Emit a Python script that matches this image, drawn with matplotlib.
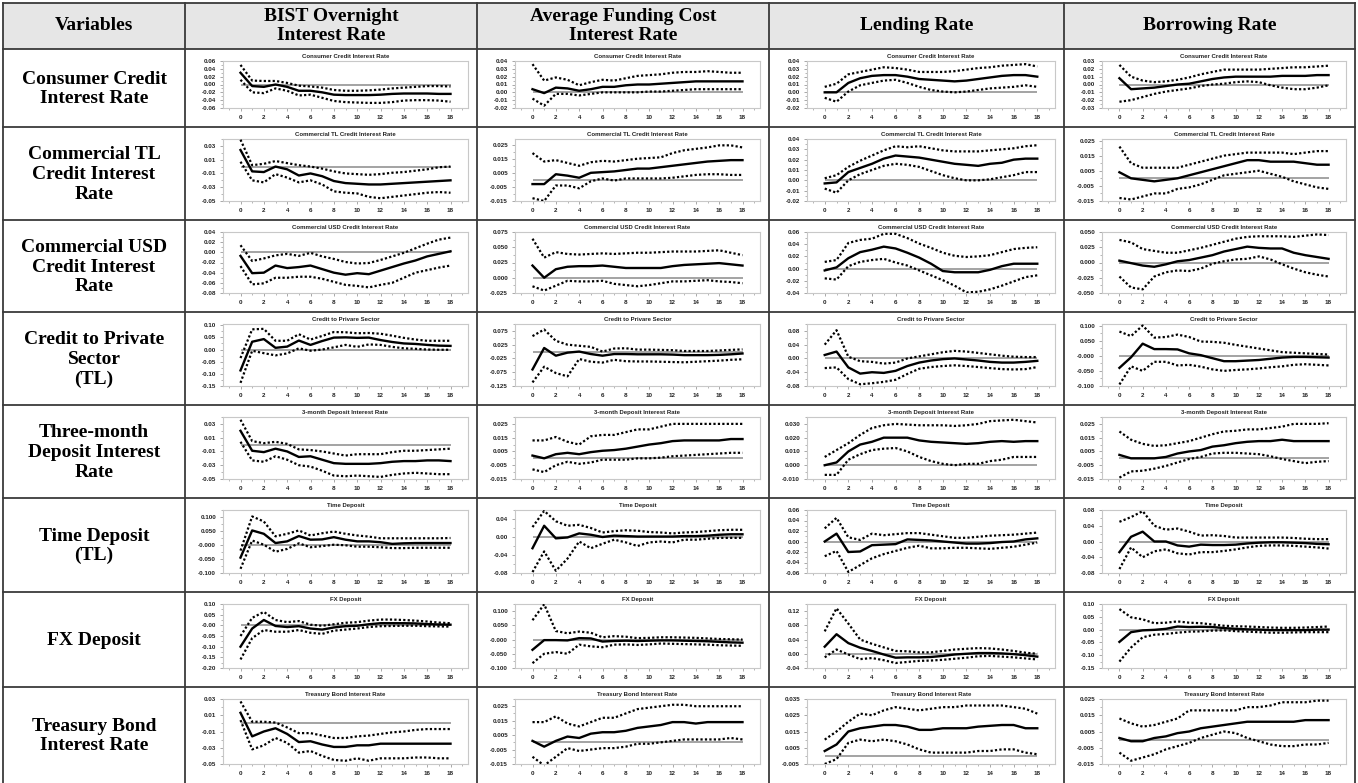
import matplotlib
matplotlib.use("Agg")
import matplotlib.pyplot as plt
from matplotlib.patches import Rectangle
from matplotlib.ticker import FixedLocator, AutoMinorLocator, MultipleLocator

W, H = 1358, 783
HORIZON = list(range(19))

COLUMN_HEADERS = ["Variables", "BIST Overnight\nInterest Rate", "Average Funding Cost\nInterest Rate",
                  "Lending Rate", "Borrowing Rate"]
ROW_LABELS = ["Consumer Credit\nInterest Rate", "Commercial TL\nCredit Interest\nRate",
              "Commercial USD\nCredit Interest\nRate", "Credit to Private\nSector\n(TL)",
              "Three-month\nDeposit Interest\nRate", "Time Deposit\n(TL)", "FX Deposit",
              "Treasury Bond\nInterest Rate"]
PANEL_TITLES = ["Consumer Credit Interest Rate", "Commercial TL Credit Interest Rate",
                "Commercial USD Credit Interest Rate", "Credit to Privare Sector",
                "3-month Deposit Interest Rate", "Time Deposit", "FX Deposit",
                "Treasury Bond Interest Rate"]

# ---- impulse responses: each list holds [BIST, AFC, Lending, Borrowing] ----
CONSUMER_MID = [
    [0.030,-0.004,-0.006,0.000,-0.006,-0.016,-0.016,-0.020,-0.026,-0.027,-0.027,-0.027,-0.026,-0.024,-0.023,-0.023,-0.023,-0.024,-0.024],
    [0.004,-0.001,0.006,0.005,0.002,0.004,0.007,0.007,0.009,0.010,0.010,0.011,0.012,0.013,0.014,0.014,0.014,0.014,0.014],
    [0.000,0.000,0.012,0.018,0.021,0.022,0.022,0.020,0.017,0.016,0.015,0.014,0.015,0.017,0.019,0.021,0.022,0.022,0.020],
    [0.008,-0.006,-0.005,-0.004,-0.002,0.000,0.001,0.004,0.007,0.009,0.010,0.010,0.010,0.010,0.011,0.011,0.011,0.012,0.012]]
CONSUMER_UP = [
    [0.050,0.010,0.009,0.009,0.004,-0.003,-0.005,-0.008,-0.014,-0.016,-0.016,-0.015,-0.013,-0.010,-0.008,-0.006,-0.004,-0.004,-0.005],
    [0.036,0.015,0.019,0.016,0.009,0.013,0.016,0.015,0.018,0.021,0.022,0.023,0.025,0.026,0.026,0.027,0.026,0.025,0.025],
    [0.007,0.011,0.023,0.026,0.029,0.032,0.031,0.029,0.026,0.026,0.026,0.027,0.029,0.031,0.032,0.034,0.035,0.036,0.033],
    [0.025,0.010,0.005,0.003,0.004,0.006,0.009,0.013,0.016,0.019,0.019,0.019,0.019,0.020,0.021,0.022,0.022,0.023,0.024]]
CONSUMER_LO = [
    [0.012,-0.020,-0.022,-0.010,-0.016,-0.028,-0.026,-0.034,-0.042,-0.045,-0.046,-0.047,-0.047,-0.045,-0.041,-0.040,-0.040,-0.041,-0.044],
    [-0.008,-0.017,-0.002,-0.002,-0.004,-0.002,0.000,0.000,0.000,0.000,0.001,0.001,0.002,0.003,0.004,0.004,0.004,0.004,0.004],
    [-0.007,-0.012,0.001,0.009,0.012,0.015,0.016,0.012,0.007,0.003,0.001,0.000,0.001,0.003,0.005,0.006,0.007,0.009,0.007],
    [-0.022,-0.020,-0.016,-0.012,-0.009,-0.007,-0.005,-0.002,0.000,0.001,0.003,0.004,0.003,-0.001,-0.004,-0.006,-0.006,-0.004,-0.001]]

COMM_TL_MID = [
    [0.024,-0.007,-0.008,0.000,-0.004,-0.013,-0.010,-0.014,-0.021,-0.024,-0.025,-0.026,-0.026,-0.025,-0.024,-0.023,-0.022,-0.021,-0.020],
    [-0.003,-0.003,0.004,0.003,0.0015,0.005,0.0055,0.006,0.007,0.008,0.008,0.009,0.010,0.011,0.012,0.013,0.0135,0.014,0.014],
    [-0.003,-0.002,0.008,0.012,0.016,0.021,0.024,0.023,0.022,0.020,0.018,0.016,0.015,0.014,0.016,0.017,0.020,0.021,0.021],
    [0.004,0.000,-0.001,-0.002,-0.001,0.000,0.002,0.004,0.006,0.008,0.010,0.012,0.012,0.011,0.011,0.011,0.010,0.009,0.009]]
COMM_TL_UP = [
    [0.039,0.002,0.004,0.008,0.005,0.002,0.000,-0.003,-0.007,-0.010,-0.011,-0.012,-0.011,-0.009,-0.008,-0.006,-0.004,-0.001,0.000],
    [0.019,0.013,0.014,0.012,0.010,0.0125,0.0135,0.013,0.014,0.015,0.0155,0.016,0.019,0.021,0.022,0.023,0.0245,0.0245,0.023],
    [0.002,0.005,0.013,0.019,0.024,0.029,0.033,0.032,0.033,0.031,0.029,0.028,0.028,0.028,0.029,0.030,0.031,0.033,0.034],
    [0.021,0.010,0.007,0.007,0.007,0.007,0.009,0.011,0.013,0.015,0.016,0.017,0.017,0.017,0.017,0.016,0.017,0.018,0.018]]
COMM_TL_LO = [
    [0.007,-0.020,-0.023,-0.011,-0.016,-0.023,-0.020,-0.026,-0.036,-0.038,-0.039,-0.044,-0.046,-0.044,-0.042,-0.040,-0.038,-0.037,-0.038],
    [-0.013,-0.015,-0.004,-0.004,-0.006,-0.001,0.001,-0.0005,0.001,0.001,0.001,0.001,0.0015,0.0025,0.0035,0.004,0.004,0.0035,0.0035],
    [-0.008,-0.012,0.000,0.006,0.010,0.014,0.016,0.015,0.013,0.009,0.005,0.002,0.000,0.000,0.001,0.003,0.005,0.008,0.008],
    [-0.013,-0.014,-0.012,-0.010,-0.010,-0.007,-0.006,-0.004,-0.001,0.002,0.003,0.004,0.005,0.003,0.001,-0.002,-0.004,-0.006,-0.007]]

COMM_USD_MID = [
    [-0.007,-0.041,-0.040,-0.026,-0.031,-0.029,-0.026,-0.033,-0.040,-0.044,-0.041,-0.043,-0.036,-0.029,-0.022,-0.016,-0.008,-0.003,0.002],
    [0.020,0.000,0.014,0.018,0.019,0.019,0.020,0.018,0.016,0.016,0.016,0.016,0.019,0.021,0.022,0.023,0.024,0.022,0.020],
    [-0.003,0.002,0.017,0.027,0.031,0.036,0.033,0.026,0.018,0.008,-0.004,-0.006,-0.006,-0.006,-0.002,0.004,0.008,0.008,0.008],
    [0.003,-0.001,-0.005,-0.007,-0.003,0.002,0.004,0.008,0.012,0.018,0.022,0.026,0.024,0.023,0.023,0.016,0.012,0.009,0.006]]
COMM_USD_UP = [
    [0.014,-0.017,-0.012,-0.006,-0.003,-0.007,-0.001,-0.008,-0.013,-0.019,-0.022,-0.021,-0.015,-0.008,-0.001,0.008,0.017,0.025,0.029],
    [0.064,0.033,0.042,0.039,0.038,0.039,0.040,0.039,0.040,0.041,0.041,0.042,0.043,0.043,0.043,0.044,0.045,0.041,0.037],
    [0.011,0.014,0.042,0.047,0.049,0.057,0.057,0.050,0.041,0.034,0.026,0.021,0.019,0.020,0.022,0.027,0.032,0.034,0.035],
    [0.037,0.033,0.022,0.019,0.016,0.016,0.020,0.024,0.029,0.034,0.039,0.042,0.043,0.043,0.043,0.042,0.044,0.046,0.045]]
COMM_USD_LO = [
    [-0.027,-0.063,-0.061,-0.050,-0.050,-0.048,-0.048,-0.052,-0.058,-0.064,-0.066,-0.069,-0.064,-0.060,-0.050,-0.040,-0.035,-0.030,-0.026],
    [-0.014,-0.021,-0.013,-0.005,-0.006,-0.006,-0.005,-0.010,-0.012,-0.014,-0.012,-0.009,-0.006,-0.006,-0.005,-0.004,-0.006,-0.007,-0.009],
    [-0.016,-0.018,0.004,0.011,0.014,0.016,0.010,0.005,-0.003,-0.011,-0.019,-0.028,-0.039,-0.038,-0.034,-0.028,-0.021,-0.014,-0.011],
    [-0.023,-0.041,-0.044,-0.023,-0.016,-0.013,-0.014,-0.010,-0.002,0.002,0.005,0.006,0.010,0.005,-0.003,-0.010,-0.016,-0.020,-0.023]]

CREDIT_MID = [
    [-0.086,0.032,0.043,0.007,0.012,0.037,0.019,0.035,0.049,0.050,0.048,0.049,0.039,0.031,0.025,0.023,0.019,0.016,0.015],
    [-0.065,0.013,-0.015,-0.004,0.000,-0.009,-0.015,-0.009,-0.009,-0.010,-0.010,-0.010,-0.011,-0.013,-0.013,-0.013,-0.012,-0.010,-0.007],
    [0.010,0.020,-0.026,-0.044,-0.040,-0.042,-0.036,-0.022,-0.012,-0.006,-0.002,0.000,-0.003,-0.006,-0.010,-0.012,-0.012,-0.010,-0.007],
    [-0.040,-0.005,0.040,0.022,0.022,0.021,0.008,0.002,-0.008,-0.018,-0.018,-0.016,-0.014,-0.010,-0.006,-0.004,-0.004,-0.005,-0.006]]
CREDIT_UP = [
    [-0.035,0.083,0.085,0.036,0.036,0.063,0.041,0.056,0.072,0.071,0.067,0.068,0.065,0.057,0.048,0.041,0.036,0.036,0.036],
    [0.056,0.080,0.039,0.025,0.021,0.017,0.000,0.011,0.012,0.007,0.007,0.006,0.005,0.002,0.002,0.002,0.004,0.006,0.008],
    [0.040,0.082,0.005,-0.008,-0.010,-0.015,-0.012,0.000,0.006,0.012,0.018,0.022,0.020,0.016,0.012,0.008,0.005,0.004,0.004],
    [0.080,0.065,0.100,0.060,0.062,0.070,0.062,0.047,0.046,0.043,0.036,0.030,0.024,0.018,0.012,0.010,0.008,0.006,0.004]]
CREDIT_LO = [
    [-0.137,-0.005,-0.015,-0.024,-0.016,0.005,-0.005,0.000,0.009,0.019,0.011,0.021,0.019,0.011,0.005,0.003,0.000,-0.001,-0.001],
    [-0.112,-0.055,-0.078,-0.090,-0.027,-0.037,-0.040,-0.030,-0.035,-0.036,-0.036,-0.037,-0.038,-0.039,-0.037,-0.035,-0.033,-0.030,-0.028],
    [-0.028,-0.026,-0.060,-0.075,-0.072,-0.068,-0.062,-0.045,-0.030,-0.025,-0.022,-0.020,-0.022,-0.025,-0.028,-0.031,-0.032,-0.031,-0.025],
    [-0.095,-0.035,-0.050,-0.020,-0.020,-0.032,-0.030,-0.036,-0.045,-0.050,-0.047,-0.045,-0.042,-0.038,-0.035,-0.030,-0.028,-0.030,-0.032]]

DEPOSIT3M_MID = [
    [0.020,-0.009,-0.011,-0.006,-0.010,-0.018,-0.017,-0.022,-0.027,-0.028,-0.028,-0.028,-0.027,-0.025,-0.024,-0.024,-0.023,-0.023,-0.024],
    [0.002,0.000,0.003,0.004,0.003,0.0045,0.0055,0.006,0.007,0.0085,0.010,0.011,0.0125,0.013,0.013,0.013,0.013,0.014,0.014],
    [0.000,0.002,0.010,0.015,0.017,0.020,0.020,0.020,0.018,0.017,0.0165,0.016,0.0155,0.016,0.017,0.0175,0.017,0.0175,0.0175],
    [0.0025,0.000,0.000,0.000,0.001,0.0035,0.005,0.006,0.0085,0.0095,0.011,0.012,0.0125,0.0125,0.0135,0.0125,0.0125,0.0125,0.0125]]
DEPOSIT3M_UP = [
    [0.036,0.005,0.002,0.004,0.001,-0.007,-0.008,-0.010,-0.013,-0.016,-0.014,-0.014,-0.014,-0.011,-0.009,-0.009,-0.008,-0.007,-0.006],
    [0.013,0.013,0.0155,0.012,0.010,0.016,0.017,0.017,0.019,0.021,0.021,0.023,0.025,0.025,0.025,0.025,0.025,0.025,0.025],
    [0.006,0.011,0.016,0.022,0.027,0.029,0.030,0.0295,0.029,0.029,0.029,0.0285,0.029,0.030,0.032,0.0325,0.033,0.032,0.031],
    [0.0195,0.0135,0.0105,0.009,0.0095,0.011,0.0125,0.015,0.0175,0.0195,0.020,0.021,0.021,0.022,0.023,0.025,0.025,0.025,0.0255]]
DEPOSIT3M_LO = [
    [0.004,-0.023,-0.025,-0.017,-0.022,-0.030,-0.032,-0.038,-0.045,-0.046,-0.045,-0.046,-0.047,-0.044,-0.042,-0.041,-0.042,-0.043,-0.043],
    [-0.008,-0.010,-0.005,-0.0025,-0.004,-0.003,-0.001,-0.001,-0.001,0.000,0.000,0.0005,0.0015,0.002,0.0025,0.003,0.0035,0.004,0.004],
    [-0.007,-0.007,0.004,0.008,0.011,0.012,0.0125,0.010,0.006,0.003,0.001,0.000,0.001,0.001,0.003,0.004,0.006,0.006,0.006],
    [-0.014,-0.0095,-0.009,-0.0075,-0.0055,-0.003,-0.0005,0.001,0.0035,0.004,0.004,0.0035,0.003,0.0015,-0.0005,-0.002,-0.0035,-0.0025,-0.002]]

TIME_DEP_MID = [
    [-0.045,0.052,0.040,0.007,0.013,0.032,0.019,0.020,0.028,0.019,0.013,0.013,0.010,0.004,0.006,0.007,0.007,0.007,0.007],
    [-0.025,0.025,-0.003,-0.001,0.008,0.005,0.000,0.003,0.002,0.001,0.001,0.001,0.001,0.002,0.002,0.003,0.005,0.006,0.006],
    [0.000,0.015,-0.020,-0.019,-0.007,-0.006,-0.005,0.004,0.003,0.002,0.000,-0.002,-0.004,-0.004,-0.003,-0.001,0.000,0.004,0.006],
    [-0.027,0.012,0.025,0.000,0.000,-0.010,-0.013,-0.008,-0.009,-0.009,-0.008,-0.005,-0.003,-0.002,-0.002,-0.003,-0.004,-0.006,-0.007]]
TIME_DEP_UP = [
    [-0.020,0.102,0.084,0.031,0.040,0.052,0.034,0.042,0.048,0.040,0.034,0.030,0.024,0.024,0.024,0.024,0.024,0.024,0.025],
    [0.022,0.058,0.035,0.025,0.027,0.020,0.010,0.013,0.015,0.014,0.011,0.010,0.008,0.010,0.011,0.013,0.015,0.016,0.016],
    [0.025,0.045,0.008,0.003,0.015,0.012,0.014,0.016,0.016,0.013,0.010,0.007,0.007,0.009,0.011,0.012,0.013,0.015,0.017],
    [0.050,0.062,0.077,0.040,0.030,0.033,0.025,0.015,0.016,0.014,0.010,0.010,0.010,0.010,0.010,0.009,0.007,0.006,0.006]]
TIME_DEP_LO = [
    [-0.085,0.016,0.001,-0.024,-0.014,0.006,-0.008,-0.004,0.001,-0.001,-0.006,-0.006,-0.008,-0.011,-0.011,-0.010,-0.010,-0.010,-0.010],
    [-0.078,-0.032,-0.075,-0.048,-0.010,-0.025,-0.015,-0.006,-0.012,-0.020,-0.012,-0.010,-0.012,-0.006,-0.006,-0.004,-0.002,-0.002,-0.002],
    [-0.028,-0.018,-0.058,-0.045,-0.032,-0.024,-0.018,-0.012,-0.008,-0.013,-0.013,-0.012,-0.012,-0.013,-0.014,-0.012,-0.010,-0.006,-0.002],
    [-0.070,-0.015,-0.040,-0.025,-0.020,-0.030,-0.033,-0.027,-0.027,-0.024,-0.020,-0.015,-0.011,-0.010,-0.010,-0.011,-0.013,-0.015,-0.018]]

FX_DEP_MID = [
    [-0.100,-0.015,0.025,-0.003,-0.008,-0.004,-0.015,-0.020,-0.010,-0.004,-0.002,0.005,0.010,0.010,0.010,0.009,0.006,0.004,0.003],
    [-0.036,-0.002,-0.002,-0.003,0.005,0.004,-0.007,-0.005,-0.004,-0.005,-0.004,-0.003,-0.003,-0.004,-0.005,-0.006,-0.008,-0.010,-0.011],
    [0.020,0.055,0.030,0.017,0.008,-0.002,-0.011,-0.010,-0.010,-0.009,-0.006,-0.002,0.000,0.002,0.002,0.001,-0.001,-0.004,-0.008],
    [-0.048,-0.010,-0.003,-0.001,0.003,0.012,0.010,0.011,0.010,0.006,0.003,0.001,0.000,-0.002,-0.002,-0.002,-0.002,0.000,0.000]]
FX_DEP_UP = [
    [-0.050,0.035,0.063,0.025,0.015,0.020,0.003,-0.002,0.005,0.012,0.015,0.022,0.027,0.027,0.025,0.022,0.018,0.013,0.010],
    [0.068,0.124,0.030,0.022,0.028,0.024,0.008,0.012,0.010,0.005,0.006,0.008,0.008,0.007,0.006,0.004,0.002,0.001,0.000],
    [0.063,0.128,0.085,0.040,0.028,0.018,0.008,0.007,0.004,0.004,0.008,0.012,0.014,0.016,0.015,0.012,0.008,0.003,0.000],
    [0.080,0.048,0.040,0.025,0.027,0.032,0.027,0.025,0.020,0.015,0.013,0.012,0.010,0.008,0.007,0.007,0.008,0.010,0.012]]
FX_DEP_LO = [
    [-0.160,-0.060,-0.022,-0.030,-0.030,-0.022,-0.035,-0.040,-0.025,-0.020,-0.015,-0.008,-0.004,-0.003,-0.002,-0.002,-0.004,-0.005,-0.006],
    [-0.083,-0.050,-0.044,-0.050,-0.018,-0.024,-0.027,-0.018,-0.017,-0.019,-0.017,-0.014,-0.015,-0.016,-0.017,-0.018,-0.020,-0.021,-0.022],
    [-0.010,0.012,-0.002,-0.015,-0.012,-0.018,-0.026,-0.023,-0.020,-0.019,-0.017,-0.014,-0.011,-0.007,-0.006,-0.008,-0.010,-0.013,-0.016],
    [-0.125,-0.070,-0.030,-0.020,-0.017,-0.012,-0.008,-0.007,-0.004,-0.003,-0.006,-0.008,-0.010,-0.012,-0.012,-0.011,-0.010,-0.010,-0.010]]

TREASURY_MID = [
    [0.013,-0.016,-0.010,-0.006,-0.013,-0.023,-0.022,-0.026,-0.029,-0.029,-0.027,-0.027,-0.025,-0.025,-0.025,-0.025,-0.025,-0.025,-0.025],
    [0.001,-0.003,0.001,0.004,0.003,0.006,0.007,0.007,0.008,0.010,0.011,0.012,0.014,0.014,0.013,0.014,0.014,0.014,0.014],
    [0.003,0.007,0.015,0.017,0.018,0.019,0.019,0.018,0.016,0.016,0.017,0.017,0.017,0.018,0.0185,0.019,0.019,0.017,0.017],
    [0.001,-0.001,-0.001,0.001,0.002,0.004,0.005,0.007,0.008,0.009,0.010,0.011,0.011,0.011,0.011,0.011,0.012,0.012,0.012]]
TREASURY_UP = [
    [0.027,0.002,0.002,0.001,-0.005,-0.012,-0.012,-0.015,-0.018,-0.018,-0.016,-0.015,-0.013,-0.011,-0.010,-0.008,-0.007,-0.007,-0.007],
    [0.014,0.014,0.018,0.013,0.011,0.014,0.017,0.017,0.020,0.023,0.024,0.025,0.026,0.026,0.025,0.025,0.025,0.025,0.025],
    [0.010,0.015,0.021,0.026,0.025,0.028,0.030,0.029,0.028,0.029,0.030,0.030,0.031,0.031,0.031,0.031,0.030,0.029,0.026],
    [0.013,0.010,0.008,0.009,0.011,0.013,0.018,0.018,0.018,0.018,0.018,0.020,0.020,0.021,0.023,0.023,0.023,0.024,0.024]]
TREASURY_LO = [
    [0.004,-0.032,-0.027,-0.018,-0.024,-0.036,-0.034,-0.040,-0.045,-0.046,-0.043,-0.046,-0.043,-0.043,-0.043,-0.042,-0.042,-0.043,-0.043],
    [-0.010,-0.016,-0.010,-0.004,-0.006,-0.005,-0.004,-0.004,-0.003,-0.001,-0.001,0.000,0.001,0.002,0.002,0.002,0.002,0.003,0.002],
    [-0.005,-0.002,0.008,0.010,0.009,0.010,0.009,0.007,0.004,0.002,0.002,0.002,0.002,0.003,0.003,0.004,0.004,0.002,0.001],
    [-0.008,-0.013,-0.011,-0.009,-0.006,-0.004,-0.002,0.001,0.003,0.005,0.004,0.001,-0.001,-0.003,-0.004,-0.004,-0.003,-0.003,-0.002]]

# ---- y tick labels and upper y limits per panel (rows x columns) ----
YTICK_LABELS = [
    [["0.06","0.04","0.02","0.00","-0.02","-0.04","-0.06"], ["0.04","0.03","0.02","0.01","0.00","-0.01","-0.02"],
     ["0.04","0.03","0.02","0.01","0.00","-0.01","-0.02"], ["0.03","0.02","0.01","0.00","-0.01","-0.02","-0.03"]],
    [["0.03","0.01","-0.01","-0.03","-0.05"], ["0.025","0.015","0.005","-0.005","-0.015"],
     ["0.04","0.03","0.02","0.01","0.00","-0.01","-0.02"], ["0.025","0.015","0.005","-0.005","-0.015"]],
    [["0.04","0.02","0.00","-0.02","-0.04","-0.06","-0.08"], ["0.075","0.050","0.025","0.000","-0.025"],
     ["0.06","0.04","0.02","0.00","-0.02","-0.04"], ["0.050","0.025","0.000","-0.025","-0.050"]],
    [["0.10","0.05","0.00","-0.05","-0.10","-0.15"], ["0.075","0.025","-0.025","-0.075","-0.125"],
     ["0.08","0.04","0.00","-0.04","-0.08"], ["0.100","0.050","-0.000","-0.050","-0.100"]],
    [["0.03","0.01","-0.01","-0.03","-0.05"], ["0.025","0.015","0.005","-0.005","-0.015"],
     ["0.030","0.020","0.010","0.000","-0.010"], ["0.025","0.015","0.005","-0.005","-0.015"]],
    [["0.100","0.050","-0.000","-0.050","-0.100"], ["0.04","0.00","-0.04","-0.08"],
     ["0.06","0.04","0.02","0.00","-0.02","-0.04","-0.06"], ["0.08","0.04","0.00","-0.04","-0.08"]],
    [["0.10","0.05","-0.00","-0.05","-0.10","-0.15","-0.20"], ["0.100","0.050","-0.000","-0.050","-0.100"],
     ["0.12","0.08","0.04","0.00","-0.04"], ["0.10","0.05","0.00","-0.05","-0.10","-0.15"]],
    [["0.03","0.01","-0.01","-0.03","-0.05"], ["0.025","0.015","0.005","-0.005","-0.015"],
     ["0.035","0.025","0.015","0.005","-0.005"], ["0.025","0.015","0.005","-0.005","-0.015"]],
]
YTOP = [
    [0.06, 0.04, 0.04, 0.03],
    [0.04, 0.029, 0.04, 0.026],
    [0.04, 0.075, 0.06, 0.05],
    [0.105, 0.10, 0.10, 0.105],
    [0.04, 0.03, 0.035, 0.03],
    [0.125, 0.06, 0.06, 0.08],
    [0.10, 0.125, 0.14, 0.10],
    [0.03, 0.03, 0.035, 0.025],
]

ROWS_MID = [CONSUMER_MID, COMM_TL_MID, COMM_USD_MID, CREDIT_MID, DEPOSIT3M_MID, TIME_DEP_MID, FX_DEP_MID, TREASURY_MID]
ROWS_UP = [CONSUMER_UP, COMM_TL_UP, COMM_USD_UP, CREDIT_UP, DEPOSIT3M_UP, TIME_DEP_UP, FX_DEP_UP, TREASURY_UP]
ROWS_LO = [CONSUMER_LO, COMM_TL_LO, COMM_USD_LO, CREDIT_LO, DEPOSIT3M_LO, TIME_DEP_LO, FX_DEP_LO, TREASURY_LO]

# ---- layout (pixels) ----
COL_X = [3, 185, 477, 769, 1064, 1355]
ROW_Y = [3, 49, 127, 220, 312, 405, 498, 592, 687, 783]
LINE_COLOR = "#3a3a3a"
SERIF = ["Liberation Serif", "DejaVu Serif"]
SANS = ["Liberation Sans", "DejaVu Sans"]

fig = plt.figure(figsize=(W / 100, H / 100), dpi=100)
fig.patch.set_facecolor("white")
bg = fig.add_axes([0, 0, 1, 1])
bg.set_xlim(0, W)
bg.set_ylim(H, 0)
bg.axis("off")

bg.add_patch(Rectangle((COL_X[0], ROW_Y[0]), COL_X[-1] - COL_X[0], ROW_Y[1] - ROW_Y[0],
                       facecolor="#e6e6e6", edgecolor="none", zorder=0))
for y in ROW_Y[:-1]:
    bg.plot([COL_X[0], COL_X[-1]], [y, y], color=LINE_COLOR, lw=1.3, zorder=2)
for x in COL_X:
    bg.plot([x, x], [ROW_Y[0], H], color=LINE_COLOR, lw=1.3, zorder=2)

for c, text in enumerate(COLUMN_HEADERS):
    bg.text((COL_X[c] + COL_X[c + 1]) / 2, (ROW_Y[0] + ROW_Y[1]) / 2, text, ha="center", va="center",
            fontsize=14, fontweight="bold", family=SERIF, linespacing=1.2)
for r, text in enumerate(ROW_LABELS):
    bg.text((COL_X[0] + COL_X[1]) / 2, (ROW_Y[r + 1] + ROW_Y[r + 2]) / 2 + 1, text, ha="center", va="center",
            fontsize=14, fontweight="bold", family=SERIF, linespacing=1.2)

for r in range(8):
    for c in range(4):
        x0, x1 = COL_X[c + 1], COL_X[c + 2]
        y0, y1 = ROW_Y[r + 1], ROW_Y[r + 2]
        left, right = x0 + 38, x1 - 9
        top, bottom = y0 + 12, y1 - 19
        ax = fig.add_axes([left / W, 1 - bottom / H, (right - left) / W, (bottom - top) / H])
        labels = YTICK_LABELS[r][c]
        ticks = [float(s) for s in labels]
        ax.hlines(0, HORIZON[0], HORIZON[-1], color="#8a8a8a", lw=1.1, zorder=1)
        ax.plot(HORIZON, ROWS_MID[r][c], color="black", lw=1.7, zorder=3)
        ax.plot(HORIZON, ROWS_UP[r][c], color="black", lw=1.6, ls=(0, (1, 1)), zorder=3)
        ax.plot(HORIZON, ROWS_LO[r][c], color="black", lw=1.6, ls=(0, (1, 1)), zorder=3)
        ax.set_xlim(-1.5, 19.5)
        ax.set_ylim(min(ticks), YTOP[r][c])
        ax.yaxis.set_major_locator(FixedLocator(ticks))
        ax.set_yticklabels(labels)
        ax.yaxis.set_minor_locator(AutoMinorLocator(2))
        ax.set_xticks(HORIZON[::2])
        ax.xaxis.set_minor_locator(MultipleLocator(1))
        ax.tick_params(axis="both", which="major", labelsize=4.5, length=2, width=0.6,
                       color="#9a9a9a", labelcolor="#222222", pad=3)
        ax.tick_params(axis="both", which="minor", length=1.2, width=0.5, color="#9a9a9a")
        for lab in ax.get_xticklabels() + ax.get_yticklabels():
            lab.set_fontweight("bold")
            lab.set_family(SANS)
        for sp in ax.spines.values():
            sp.set_color("#c8c8c8")
            sp.set_linewidth(0.8)
        ax.set_title(PANEL_TITLES[r], fontsize=4.3, fontweight="bold", family=SANS, pad=2, color="#222222")

fig.savefig("out.png", dpi=100)
